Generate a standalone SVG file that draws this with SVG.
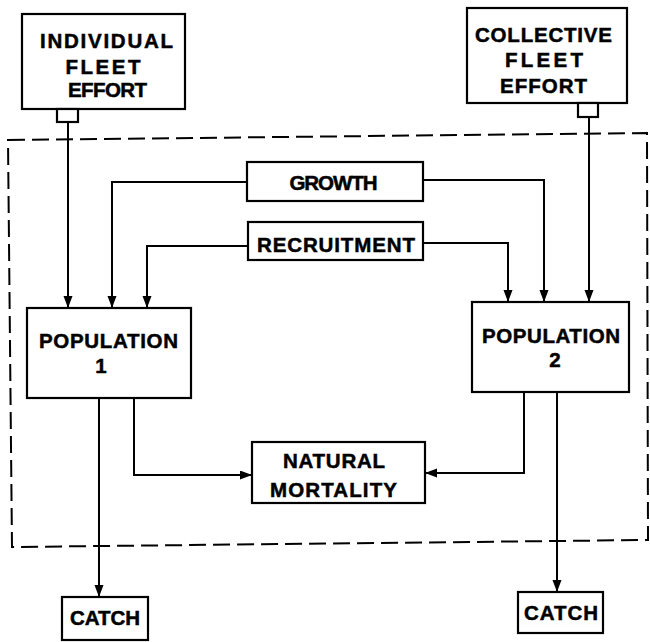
<svg xmlns="http://www.w3.org/2000/svg" width="650" height="642" viewBox="0 0 650 642">
<defs>
<marker id="ah" markerUnits="userSpaceOnUse" markerWidth="13" markerHeight="10" refX="12" refY="4.5" orient="auto">
<path d="M0,0 L12,4.5 L0,9 Z" fill="#000"/>
</marker>
<style>
.box{fill:#fff;stroke:#000;stroke-width:2.2}
.lbl{font-family:"Liberation Sans",Arial,sans-serif;font-weight:bold;font-size:20.5px;fill:#000;stroke:#000;stroke-width:0.5;text-anchor:middle}
.con{fill:none;stroke:#000;stroke-width:2}
.dash{fill:none;stroke:#000;stroke-width:2;stroke-dasharray:17 7}
</style>
</defs>
<rect width="650" height="642" fill="#fff"/>
<path class="dash" d="M8,140 L647,133 L648,540 L12,547 Z"/>
<g id="connectors">
<path class="con" d="M68,122 L68,308" marker-end="url(#ah)"/>
<path class="con" d="M247,182 L112,182 L112,308" marker-end="url(#ah)"/>
<path class="con" d="M248,246 L147,246 L147,308" marker-end="url(#ah)"/>
<path class="con" d="M423,180 L544,180 L544,302" marker-end="url(#ah)"/>
<path class="con" d="M423,243 L508,243 L508,302" marker-end="url(#ah)"/>
<path class="con" d="M589,117 L589,302" marker-end="url(#ah)"/>
<path class="con" d="M99,398 L99,597" marker-end="url(#ah)"/>
<path class="con" d="M134,398 L134,475 L252,475" marker-end="url(#ah)"/>
<path class="con" d="M524,392 L524,473 L425,473" marker-end="url(#ah)"/>
<path class="con" d="M557,392 L557,592" marker-end="url(#ah)"/>
</g>
<g id="individual">
<rect class="box" x="22" y="14" width="163" height="95"/>
<rect class="box" x="57" y="109" width="21" height="13"/>
<text class="lbl" x="106.5" y="48" textLength="133" lengthAdjust="spacing">INDIVIDUAL</text>
<text class="lbl" x="103" y="74" textLength="75" lengthAdjust="spacing">FLEET</text>
<text class="lbl" x="107.5" y="97" textLength="79" lengthAdjust="spacing">EFFORT</text>
</g>
<g id="collective">
<rect class="box" x="467" y="8" width="160" height="95"/>
<rect class="box" x="578" y="103" width="20" height="14"/>
<text class="lbl" x="543.5" y="42" textLength="137" lengthAdjust="spacing">COLLECTIVE</text>
<text class="lbl" x="544" y="67" textLength="78" lengthAdjust="spacing">FLEET</text>
<text class="lbl" x="543.5" y="93" textLength="87" lengthAdjust="spacing">EFFORT</text>
</g>
<g id="growth">
<rect class="box" x="247" y="162" width="176" height="39"/>
<text class="lbl" x="333.5" y="190" textLength="88" lengthAdjust="spacing">GROWTH</text>
</g>
<g id="recruitment">
<rect class="box" x="248" y="222" width="175" height="38"/>
<text class="lbl" x="336" y="252" textLength="158" lengthAdjust="spacing">RECRUITMENT</text>
</g>
<g id="population1">
<rect class="box" x="27" y="308" width="164" height="90"/>
<text class="lbl" x="108.5" y="348" textLength="139" lengthAdjust="spacing">POPULATION</text>
<text class="lbl" x="101" y="373">1</text>
</g>
<g id="population2">
<rect class="box" x="472" y="302" width="157" height="90"/>
<text class="lbl" x="551" y="343" textLength="138" lengthAdjust="spacing">POPULATION</text>
<text class="lbl" x="555" y="367">2</text>
</g>
<g id="natural-mortality">
<rect class="box" x="252" y="442" width="173" height="61"/>
<text class="lbl" x="334" y="468" textLength="102" lengthAdjust="spacing">NATURAL</text>
<text class="lbl" x="333.5" y="497" textLength="127" lengthAdjust="spacing">MORTALITY</text>
</g>
<g id="catch1">
<rect class="box" x="62" y="597" width="86" height="43"/>
<text class="lbl" x="105" y="625" textLength="70" lengthAdjust="spacing">CATCH</text>
</g>
<g id="catch2">
<rect class="box" x="518" y="592" width="85" height="41"/>
<text class="lbl" x="561" y="620" textLength="74" lengthAdjust="spacing">CATCH</text>
</g>
</svg>
